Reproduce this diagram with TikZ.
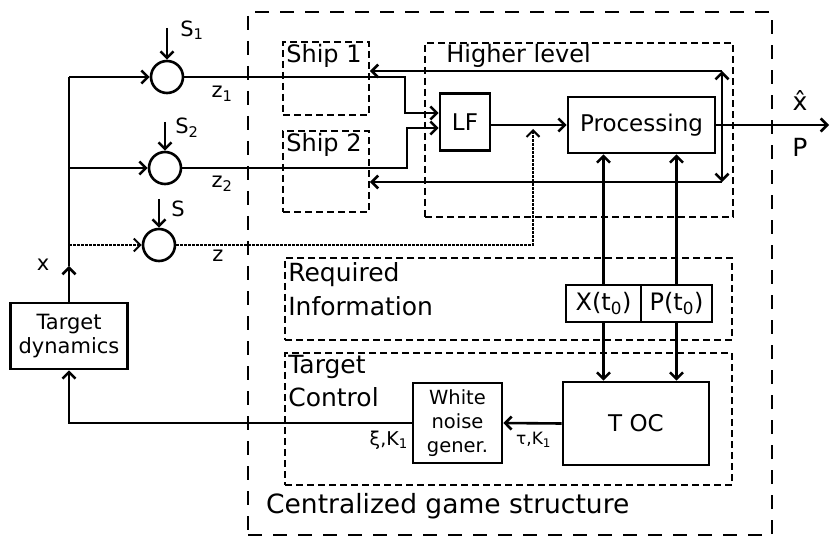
\documentclass[tikz,border=0pt]{standalone}
\usepackage{fontspec}
\setmainfont{DejaVu Sans}
\usepackage{tikz}
\usetikzlibrary{positioning,calc}
\usetikzlibrary{arrows.meta}
\tikzset{
	blk/.style={draw=black,line width=2.6pt,inner sep=1pt,align=center,font=\fontsize{21}{24}\selectfont},
	sum/.style={circle,draw=black,line width=2.6pt,minimum size=32pt,inner sep=0pt},
	grp/.style={draw=black,line width=1.8pt,dash pattern=on 7pt off 4pt},
	outerbox/.style={draw=black,line width=2.8pt,dash pattern=on 14pt off 11pt},
	ln/.style={line width=2.6pt},
	arr/.style={ln,-{Straight Barb[length=6.5pt,width=13pt]}},
	dotarr/.style={arr,line width=2pt,dash pattern=on 2.5pt off 1.5pt},
	lbl/.style={inner sep=0pt,font=\fontsize{24}{28}\selectfont,align=left},
	sublbl/.style={inner sep=0pt,font=\fontsize{21}{24}\selectfont},
}

\begin{document}
\begin{tikzpicture}[x=1pt,y=-1pt]
	\useasboundingbox (0,0) rectangle (830,537);
	% dashed groups
	\node[outerbox,minimum width=524pt,minimum height=523pt] (cgs) at (510,273.5) {};
	\node[grp,minimum width=86pt,minimum height=73pt] (ship1) at (326,78.5) {};
	\node[grp,minimum width=86pt,minimum height=81pt] (ship2) at (326,171.5) {};
	\node[grp,minimum width=308pt,minimum height=174pt] (hl) at (579,130) {};
	\node[grp,minimum width=447pt,minimum height=82pt] (ri) at (508.5,299) {};
	\node[grp,minimum width=447pt,minimum height=132pt] (tc) at (508.5,419) {};
	\node[lbl,anchor=north west] (ship1t) at ([xshift=4pt,yshift=-3pt]ship1.north west) {Ship 1};
	\node[lbl,anchor=north west] (ship2t) at ([xshift=4pt,yshift=-3pt]ship2.north west) {Ship 2};
	\node[lbl,anchor=north west] (hlt) at ([xshift=22pt,yshift=-1.5pt]hl.north west) {Higher level};
	\node[lbl,anchor=north west,font=\fontsize{25}{34}\selectfont] (rit) at ([xshift=4pt,yshift=-5pt]ri.north west) {Required\\Information};
	\node[lbl,anchor=north west,font=\fontsize{25}{33}\selectfont] (tct) at ([xshift=4pt,yshift=-3pt]tc.north west) {Target\\Control};
	\node[lbl,anchor=west,font=\fontsize{26.5}{30}\selectfont] (cgst) at (266,506) {Centralized game structure};
	% blocks
	\node[sum] (sum1) at (167,77) {};
	\node[sum] (sum2) at (165,168) {};
	\node[sum] (sum3) at (159,245) {};
	\node[blk,minimum width=117pt,minimum height=66pt] (tdyn) at (69,336) {Target\\dynamics};
	\node[blk,minimum width=50pt,minimum height=57pt,font=\fontsize{23}{26}\selectfont] (lf) at (465,122) {LF};
	\node[blk,minimum width=147pt,minimum height=56pt,font=\fontsize{23}{26}\selectfont] (proc) at (641.5,125) {Processing};
	\node[blk,minimum width=75pt,minimum height=37pt,font=\fontsize{24}{26}\selectfont] (xt) at (603.5,303.5) {X(t\textsubscript{0})};
	\node[blk,minimum width=71pt,minimum height=37pt,font=\fontsize{24}{26}\selectfont] (pt) at (676.5,303.5) {P(t\textsubscript{0})};
	\node[blk,minimum width=146pt,minimum height=83pt,font=\fontsize{23}{26}\selectfont] (toc) at (636,423.5) {T OC};
	\node[blk,minimum width=89pt,minimum height=80pt,font=\fontsize{19.5}{24}\selectfont] (wn) at (457.5,423) {White\\noise\\gener.};
	% helper points
	\coordinate (l1) at (69,77);
	\coordinate (l2) at (69,168);
	\coordinate (l3) at (69,245);
	\coordinate (xa) at (69,266);
	\coordinate (j1) at (405,77);
	\coordinate (j2) at (407,168);
	\coordinate (d1) at (533,245);
	\coordinate (d2) at (533,129);
	\coordinate (fb) at (722,125);
	\coordinate (fbU) at (722,71);
	\coordinate (fbD) at (722,182);
	\coordinate (out) at (829,125);
	\coordinate (s1) at (167,28);
	\coordinate (s2) at (165,122);
	\coordinate (s3) at (159,199);
	% signal lines
	\draw[arr] (tdyn.north) -- (xa);
	\draw[ln] (xa) -- (l1);
	\draw[arr] (l1) -- (sum1.west);
	\draw[arr] (l2) -- (sum2.west);
	\draw[dotarr] (l3) -- (sum3.west);
	\foreach \s/\t in {s1/sum1,s2/sum2,s3/sum3}
	\draw[arr] (\s) -- (\t.north);
	\draw[arr] (sum1.east) -- (j1) |- ([yshift=9pt]lf.west);
	\draw[arr] (sum2.east) -- (j2) |- ([yshift=-6pt]lf.west);
	\draw[dotarr] (sum3.east) -- (d1) -- (d2);
	\draw[arr] (lf.east |- proc.west) -- (proc.west);
	\draw[arr] (proc.east) -- (out);
	\draw[arr] (fb) -- (fbU);
	\draw[arr] (fbU) -- (fbU -| ship1.east);
	\draw[arr] (fb) -- (fbD);
	\draw[arr] (fbD) -- (fbD -| ship2.east);
	\foreach \b in {xt,pt}{
		\draw[arr] (\b.north) -- (\b.north |- proc.south);
		\draw[arr] (\b.south) -- (\b.south |- toc.north);
	}
	\draw[arr] (toc.west) -- (wn.east);
	\draw[arr] (wn.west) -| (tdyn.south);
	% labels
	\node[sublbl] (ls1) at (192,30) {S\textsubscript{1}};
	\node[sublbl] (ls2) at (187,128) {S\textsubscript{2}};
	\node[sublbl] (ls3) at (178,209) {S};
	\node[sublbl] (lz1) at (222,94) {z\textsubscript{1}};
	\node[sublbl] (lz2) at (222,184) {z\textsubscript{2}};
	\node[sublbl] (lz3) at (218,256) {z};
	\node[sublbl] (lx) at (43,265) {x};
	\node[sublbl,font=\fontsize{25}{28}\selectfont] (lxh) at (800,101) {\^{x}};
	\node[sublbl,font=\fontsize{25}{28}\selectfont] (lp) at (800,147) {P};
	\node[sublbl,anchor=east,font=\fontsize{19}{22}\selectfont] (lxk) at (408,440) {ξ,K\textsubscript{1}};
	\node[sublbl,anchor=west,font=\fontsize{17}{22}\selectfont] (ltk) at (516,440) {τ,K\textsubscript{1}};
\end{tikzpicture}
\end{document}
